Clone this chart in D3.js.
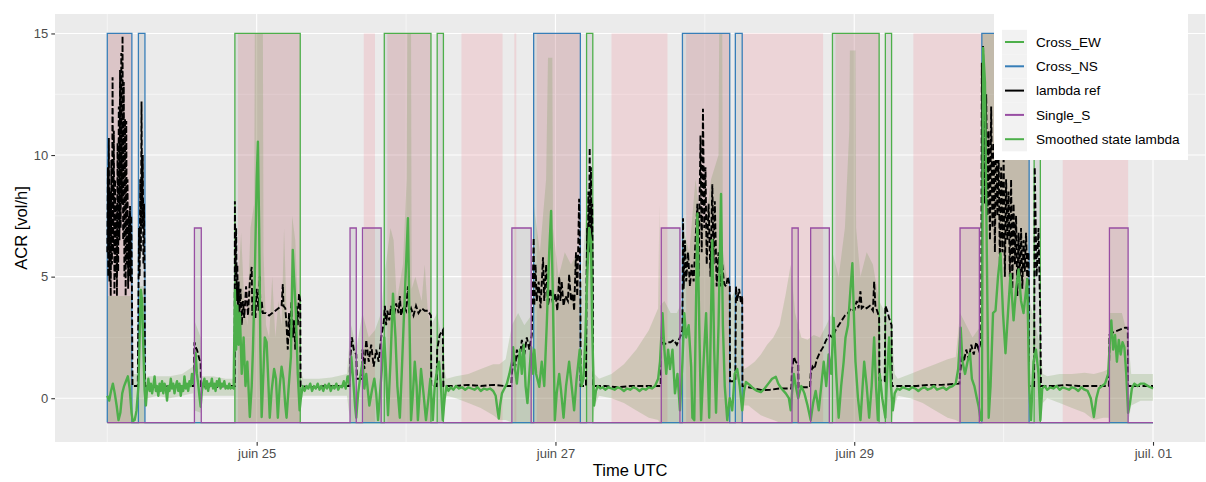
<!DOCTYPE html>
<html><head><meta charset="utf-8">
<script src="https://cdn.jsdelivr.net/npm/d3@7"></script>
<style>body{margin:0;background:#fff;font-family:"Liberation Sans",Arial,sans-serif;}</style>
</head><body><svg id="c" width="1206" height="482"></svg>
<script>
// ---- data (time in hours after juin 24 00:00 UTC) ----
const yTicks = [0, 5, 10, 15];
const xTickHours = [24, 72, 120, 168];
const xTickLabels = ["juin 25", "juin 27", "juin 29", "juil. 01"];
const legendLabels = ["Cross_EW", "Cross_NS", "lambda ref", "Single_S", "Smoothed state lambda"];
const legendColors = ["#4DAF4A", "#377EB8", "#000000", "#984EA3", "#4DAF4A"];

const crossEW = [[20.5,31],[44.5,52],[53,54],[77,78],[116.5,124],[125,126],[148.9,149.9]];
const crossNS = [[0,3.95],[5,6.05],[68.5,76],[92.4,100],[100.9,102],[140.5,148.1]];
const singleS = [[14,15.1],[39,40],[41,44],[65,68.1],[89,92],[110,111],[113,116],[137,140.1],[161,164]];
const stateLevels = {Cross_EW: 15, Cross_NS: 15, Single_S: 7, base: -1};

const pinkPeriods = [[0,3.95],[21,31],[41.2,43],[45,52],[56.9,63.5],[65.4,65.7],[69,76],[81,90],[93,100],[102,115],[117,124],[129.5,148.1],[153.5,164]];

const lambdaRef = [
[0,6.0],[0.1,9.5],[0.15,5.0],[0.25,10.7],[0.35,4.8],[0.45,8.5],[0.55,4.2],[0.65,9.8],[0.75,5.5],[0.85,13.2],[0.95,6.0],[1.05,11.0],[1.15,4.3],[1.25,9.0],[1.35,5.0],[1.45,8.0],[1.55,4.2],[1.65,10.5],[1.75,5.2],[1.85,12.0],[1.95,6.5],[2.05,13.5],[2.15,7.0],[2.25,14.2],[2.35,8.0],[2.45,14.9],[2.55,6.5],[2.65,13.0],[2.75,5.0],[2.85,11.5],[2.95,4.2],[3.05,11.4],[3.15,5.5],[3.25,9.0],[3.35,4.5],[3.45,7.5],[3.55,5.0],[3.65,7.9],[3.75,4.8],[3.85,7.5],[3.95,5.0],[4.05,0.5],
[4.9,0.5],[5.0,4.0],[5.1,7.0],[5.2,5.0],[5.3,9.0],[5.4,6.0],[5.5,12.2],[5.6,7.0],[5.7,10.0],[5.8,5.5],[5.9,8.0],[6.0,4.8],[6.05,0.5],
[8,0.45],[10,0.5],[12,0.5],[13.9,0.5],[14.0,2.3],[14.2,2.1],[14.4,2.0],[14.6,1.8],[14.8,1.6],[15.0,1.5],[15.05,0.5],[17,0.45],[19,0.5],[20.45,0.5],
[20.5,8.1],[20.6,5.0],[20.7,7.0],[20.8,4.0],[20.9,5.5],[21.0,3.0],[21.1,4.8],[21.2,3.2],[21.4,4.5],[21.6,3.0],[21.8,4.0],[22.0,3.3],[22.3,4.6],[22.6,3.4],[22.9,4.8],[23.2,5.4],[23.3,3.4],[23.6,4.2],[23.8,3.3],[24.0,4.5],[24.3,3.6],[24.5,5.0],[24.6,3.5],[24.8,4.0],[25.0,3.5],[25.5,3.5],[26.0,3.4],[26.5,3.5],[27.0,3.6],[27.5,3.7],[28.0,3.8],[28.2,4.7],[28.3,3.8],[28.6,3.7],[28.8,3.0],[29.0,2.0],[29.2,3.5],[29.4,2.5],[29.6,4.0],[29.8,2.5],[30.0,3.2],[30.2,2.0],[30.4,3.8],[30.6,3.0],[30.8,4.3],[31.0,4.0],[31.05,0.5],
[33,0.45],[35,0.5],[37,0.5],[38.9,0.5],[39.0,1.5],[39.3,2.5],[39.6,2.0],[40.0,1.8],[40.1,0.8],[40.9,0.8],[41.0,2.0],[41.3,1.2],[41.6,2.4],[42.0,1.5],[42.4,2.2],[42.8,1.3],[43.2,2.0],[43.6,1.5],[44.0,2.5],[44.4,3.1],[44.6,3.8],[44.8,3.0],[45.0,3.6],[45.3,3.2],[45.6,3.8],[46.0,3.3],[46.4,3.9],[46.8,3.5],[47.0,4.2],[47.2,3.4],[47.6,3.8],[48.0,3.6],[48.3,4.6],[48.5,3.5],[48.8,3.7],[49.2,3.4],[49.6,3.8],[50.0,3.5],[50.5,3.7],[51.0,3.6],[51.5,3.6],[52.0,3.4],[52.05,0.5],[52.9,0.5],[53.0,2.0],[53.4,2.6],[53.9,2.8],[54.0,0.5],
[56,0.5],[58,0.55],[60,0.5],[62,0.55],[64,0.5],[64.9,0.5],[65.0,1.0],[65.3,1.8],[65.5,1.2],[65.8,2.0],[66.2,1.5],[66.6,2.4],[67.0,1.8],[67.4,2.5],[67.8,2.0],[68.2,2.6],[68.5,6.6],[68.6,3.8],[68.8,5.5],[69.0,4.0],[69.3,4.8],[69.6,3.7],[70.0,5.8],[70.2,4.0],[70.5,5.5],[70.8,3.8],[71.2,4.5],[71.6,3.9],[72.0,4.3],[72.3,3.6],[72.6,5.0],[72.8,4.0],[73.0,4.8],[73.3,3.8],[73.6,4.2],[74.0,4.0],[74.2,5.1],[74.5,4.0],[74.8,4.3],[75.0,3.6],[75.3,6.0],[75.5,4.2],[75.8,8.2],[76.0,4.5],[76.05,0.5],
[76.9,0.5],[77.0,5.0],[77.1,7.0],[77.2,5.5],[77.3,8.5],[77.4,6.0],[77.5,10.3],[77.6,7.0],[77.7,9.5],[77.8,6.5],[77.9,8.0],[78.0,5.0],[78.05,0.5],[80,0.5],[82,0.45],[84,0.5],[86,0.5],[88.9,0.5],[89.0,2.5],[89.4,2.2],[90.0,2.3],[90.5,2.3],[91.0,2.4],[91.5,2.2],[92.0,2.5],[92.4,2.8],
[92.5,7.4],[92.6,4.5],[92.8,6.5],[93.0,4.8],[93.3,6.0],[93.6,4.6],[93.9,5.5],[94.2,4.8],[94.5,6.5],[94.8,8.0],[95.0,5.0],[95.3,10.8],[95.5,6.0],[95.7,11.9],[95.9,7.0],[96.1,9.5],[96.3,5.5],[96.6,8.0],[96.9,5.0],[97.2,8.8],[97.4,5.5],[97.6,8.1],[97.9,4.6],[98.2,6.0],[98.5,4.6],[98.8,5.5],[99.1,4.7],[99.4,4.6],[99.7,5.0],[100.0,4.6],[100.05,0.7],[100.9,0.7],[101.0,4.6],[101.2,4.0],[101.5,4.5],[101.8,3.9],[102.0,4.2],[102.05,0.5],
[103,0.45],[104,0.4],[105.2,0.33],[106.5,0.35],[108,0.4],[109.9,0.4],[110.0,1.2],[110.3,1.7],[110.6,1.5],[111.0,1.4],[111.05,0.45],[112.9,0.45],[113.0,1.0],[113.3,1.3],[113.6,1.2],[114.0,1.6],[114.5,1.9],[115.0,2.1],[115.5,2.4],[116.0,2.6],[116.5,2.5],[117.0,2.8],[117.5,3.0],[118.0,3.2],[118.5,3.4],[119.0,3.5],[119.5,3.7],[120.0,3.6],[120.4,4.0],[120.7,3.7],[121.0,4.4],[121.2,3.7],[121.6,3.8],[122.0,3.7],[122.5,3.8],[123.0,3.6],[123.2,4.8],[123.4,3.8],[123.8,3.5],[124.0,3.3],[124.05,0.74],[124.9,0.7],[125.0,3.8],[125.3,3.6],[125.6,3.3],[126.0,3.0],[126.05,0.5],
[128,0.5],[130,0.5],[132,0.55],[134,0.55],[136.9,0.6],[137.0,1.0],[137.3,1.8],[137.6,1.5],[138.0,2.0],[138.4,1.6],[138.8,2.2],[139.2,1.8],[139.6,2.3],[140.0,2.0],[140.4,2.4],
[140.5,13.8],[140.6,9.0],[140.7,14.5],[140.8,10.0],[140.9,13.0],[141.0,8.0],[141.2,12.5],[141.4,7.5],[141.6,11.0],[141.8,6.5],[142.0,12.0],[142.2,7.0],[142.4,10.5],[142.6,6.0],[142.8,11.5],[143.0,7.5],[143.2,10.0],[143.4,5.5],[143.6,9.5],[143.8,6.0],[144.0,10.0],[144.2,5.0],[144.4,9.0],[144.6,6.5],[144.8,8.5],[145.0,5.0],[145.2,9.0],[145.4,4.5],[145.6,8.0],[145.8,5.5],[146.0,7.5],[146.2,4.2],[146.4,6.8],[146.6,5.0],[146.8,7.0],[147.0,4.5],[147.2,6.5],[147.4,5.2],[147.6,6.8],[147.8,4.8],[148.0,6.0],[148.1,0.5],[148.9,0.5],[149.0,9.5],[149.3,5.0],[149.6,7.0],[149.9,3.2],[150.0,0.5],
[152,0.5],[154,0.55],[156,0.5],[158,0.5],[160.9,0.5],[161.0,2.6],[161.5,2.7],[162.0,2.75],[162.5,2.8],[163.0,2.85],[163.5,2.9],[163.95,2.9],[164.0,0.5],[166,0.5],[168,0.5]
];

const smoothed = [
[0.0,0.1],[0.3,-0.1],[0.6,0.3],[0.9,0.6],[1.2,0.2],[1.5,-0.3],[1.8,-0.9],[2.1,-0.6],[2.4,0.2],[2.7,0.5],[3.0,0.7],[3.3,0.9],[3.6,0.4],[3.9,-0.6],[4.1,-0.95],[4.4,-0.9],[4.7,-0.5],[5.0,0.5],[5.2,2.5],[5.4,4.45],[5.6,4.0],[5.8,2.0],[6.0,0.3],[6.2,-0.3],[6.4,0.4],
[6.6,0.8],[6.8,0.3],[7.0,0.6],[7.2,0.2],[7.4,0.5],[7.6,0.9],[7.8,0.3],[8.0,0.5],[8.2,0.1],[8.4,0.6],[8.6,0.3],[8.8,0.7],[9.0,0.2],[9.2,0.6],[9.4,0.4],[9.6,-0.1],[9.8,0.5],[10.0,0.3],[10.2,0.8],[10.4,0.4],[10.6,0.6],[10.8,0.2],[11.0,0.5],[11.2,0.7],[11.4,0.3],[11.6,0.6],[11.8,0.1],[12.0,0.5],[12.2,0.3],[12.4,0.9],[12.6,0.4],[12.8,0.6],[13.0,0.3],[13.2,0.7],[13.4,0.5],[13.6,1.0],[13.8,0.6],[14.0,1.2],[14.2,1.85],[14.4,1.0],[14.6,0.6],[14.8,0.1],[15.0,-0.35],[15.2,0.3],[15.4,0.6],[15.6,0.8],[15.8,0.4],[16.0,0.7],[16.2,0.3],[16.4,0.6],[16.6,0.5],[16.8,0.8],[17.0,0.4],[17.2,0.6],[17.4,0.3],[17.6,0.7],[17.8,0.5],[18.0,0.8],[18.2,0.4],[18.4,0.6],[18.6,0.5],[18.8,0.7],[19.0,0.4],[19.2,0.5],[19.4,0.4],[19.6,0.6],[19.8,0.4],[20.0,0.45],[20.3,0.4],
[20.5,4.45],[20.7,2.0],[20.9,3.8],[21.1,2.2],[21.3,3.5],[21.6,1.0],[21.9,2.5],[22.2,0.5],[22.5,1.5],[22.9,-0.77],[23.2,0.5],[23.4,2.0],[23.7,5.0],[24.0,9.0],[24.2,10.55],[24.4,7.0],[24.6,2.0],[24.8,-0.77],[25.0,0.5],[25.3,2.5],[25.6,2.3],[25.9,0.5],[26.1,-0.8],[26.4,0.3],[26.8,1.2],[27.1,0.8],[27.4,-0.8],[27.7,0.5],[28.0,1.3],[28.3,0.8],[28.6,-0.3],[28.8,-0.8],[29.1,0.3],[29.5,1.7],[29.8,6.1],[30.0,5.0],[30.3,3.5],[30.6,1.0],[30.9,-0.5],[31.1,0.0],[31.4,0.5],
[31.7,0.3],[32.0,0.5],[32.3,0.4],[32.6,0.6],[32.9,0.3],[33.2,0.5],[33.5,0.4],[33.8,0.6],[34.1,0.35],[34.4,0.5],[34.7,0.3],[35.0,0.55],[35.3,0.4],[35.6,0.6],[35.9,0.3],[36.2,0.5],[36.5,0.4],[36.8,0.6],[37.1,0.35],[37.4,0.5],[37.7,0.45],[38.0,0.7],[38.3,0.4],[38.6,0.9],[38.9,0.6],[39.2,1.7],[39.5,0.8],[39.8,-0.3],[40.0,-0.8],[40.3,0.2],[40.6,0.8],[41.0,1.5],[41.3,0.4],[41.6,1.0],[42.1,-0.3],[42.5,0.3],[42.9,0.8],[43.2,0.2],[43.5,-0.9],[43.9,0.5],[44.3,1.8],[44.5,2.5],[44.8,1.0],[45.1,-0.7],[45.5,1.5],[45.9,4.3],[46.3,2.5],[46.6,0.5],[47.0,-0.8],[47.3,1.0],[47.6,3.0],[48.0,5.5],[48.3,7.4],[48.5,4.0],[48.8,-0.9],[49.1,0.2],[49.4,1.5],[49.7,0.5],[49.9,-0.9],[50.2,0.3],[50.4,1.2],[50.8,0.2],[51.2,-0.9],[51.6,0.0],[51.9,0.8],[52.3,-0.9],[52.6,0.5],[53.0,1.2],[53.3,1.5],[53.6,0.5],[53.9,-0.9],[54.2,0.0],[54.5,0.5],
[54.8,0.3],[55.2,0.45],[55.6,0.35],[56.0,0.5],[56.5,0.4],[57.0,0.45],[57.5,0.35],[58.0,0.45],[58.5,0.4],[59.0,0.35],[59.5,0.45],[60.0,0.3],[60.5,0.4],[61.0,0.35],[61.5,0.4],[62.0,0.3],[62.4,0.1],[62.7,-0.5],[62.9,-0.84],[63.1,-0.3],[63.4,0.2],[63.8,0.4],[64.2,0.6],[64.6,1.0],[65.0,1.5],[65.2,2.1],[65.5,1.2],[65.8,0.6],[66.0,1.15],[66.3,2.0],[66.6,1.0],[66.9,2.2],[67.2,0.5],[67.5,-0.2],[67.8,1.0],[68.1,2.1],[68.4,1.0],[68.6,2.0],[68.9,1.0],[69.4,0.47],[69.8,1.5],[70.2,0.5],[70.6,3.0],[71.0,6.0],[71.3,7.7],[71.6,4.0],[71.9,-0.9],[72.2,0.2],[72.6,1.0],[72.9,0.3],[73.3,-0.8],[73.7,0.5],[74.2,1.5],[74.6,0.5],[75.0,-0.5],[75.4,0.8],[75.9,2.0],[76.2,0.5],[76.5,0.8],[76.8,2.5],[77.1,5.0],[77.4,7.0],[77.7,6.5],[77.9,3.0],[78.2,-0.3],[78.5,0.3],[78.8,0.5],
[79.2,0.4],[79.6,0.45],[80.0,0.35],[80.5,0.45],[81.0,0.4],[81.5,0.35],[82.0,0.45],[82.5,0.4],[83.0,0.3],[83.5,0.4],[84.0,0.35],[84.5,0.45],[85.0,0.4],[85.5,0.3],[86.0,0.4],[86.5,0.35],[87.0,0.45],[87.5,0.4],[88.0,0.5],[88.5,0.8],[88.8,1.5],[89.2,3.5],[89.5,2.0],[89.8,1.0],[90.1,2.0],[90.4,1.2],[90.8,2.0],[91.2,0.2],[91.6,1.0],[92.0,-0.5],[92.4,1.5],[92.7,3.5],[93.0,2.5],[93.4,3.0],[93.8,1.3],[94.0,-0.8],[94.3,-0.9],[94.8,7.6],[95.1,3.0],[95.4,-0.9],[95.8,1.5],[96.2,3.5],[96.7,-0.8],[97.2,6.5],[97.5,2.0],[97.8,-0.6],[98.2,3.0],[98.6,8.4],[98.9,3.0],[99.2,0.5],[99.6,-0.9],[100.0,0.0],[100.4,-0.5],[100.8,1.0],[101.2,1.2],[101.6,0.5],[102.0,-0.5],[102.3,0.3],[102.6,0.67],[103.2,0.55],[103.8,0.4],[104.4,0.3],[105.0,0.25],[105.6,0.4],[106.2,0.6],[106.8,0.8],[107.4,0.88],[107.8,0.6],[108.3,0.4],[109.0,0.2],[109.5,0.0],[109.8,-0.5],[110.0,0.2],[110.3,1.0],[110.6,0.5],[111.0,0.0],[111.5,0.5],[112.0,0.2],[112.5,-0.3],[113.0,-0.9],[113.4,-0.2],[113.8,0.3],[114.3,-0.5],[114.7,0.5],[115.1,1.5],[115.5,0.5],[115.9,1.8],[116.3,1.0],[116.7,3.3],[117.1,1.0],[117.5,-0.8],[117.9,0.5],[118.3,1.5],[118.6,2.5],[119.0,3.0],[119.4,4.5],[119.7,5.55],[120.0,3.0],[120.2,1.5],[120.6,0.0],[121.0,-0.9],[121.3,0.3],[121.6,1.5],[122.0,0.5],[122.4,-0.8],[122.8,0.5],[123.2,2.5],[123.5,0.5],[123.8,-0.9],[124.1,1.0],[124.5,0.0],[125.0,-0.8],[125.3,1.0],[125.6,2.5],[125.9,0.5],[126.2,-0.5],[126.5,0.2],[126.9,0.4],
[127.3,0.35],[127.8,0.45],[128.3,0.4],[128.8,0.35],[129.3,0.45],[129.8,0.4],[130.3,0.3],[130.8,0.4],[131.3,0.45],[131.8,0.35],[132.3,0.4],[132.8,0.5],[133.3,0.35],[133.8,0.4],[134.3,0.45],[134.8,0.35],[135.3,0.45],[135.8,0.5],[136.3,0.6],[136.7,1.2],[137.1,2.9],[137.4,1.5],[137.8,1.0],[138.2,1.5],[138.6,1.85],[138.9,0.8],[139.3,0.5],[139.7,0.0],[140.0,-0.35],[140.3,-0.9],[140.5,-0.9],[140.7,14.4],[141.0,13.0],[141.3,6.0],[141.6,-0.8],[141.9,0.5],[142.3,3.5],[142.7,3.6],[143.1,5.0],[143.5,5.95],[143.9,3.5],[144.3,1.85],[144.7,3.5],[145.1,5.1],[145.6,3.2],[146.0,4.5],[146.4,5.3],[146.8,4.0],[147.2,3.5],[147.8,4.9],[148.1,0.5],[148.4,-0.9],[148.8,1.5],[149.2,2.0],[149.6,1.0],[149.9,-0.9],[150.2,0.4],
[150.6,0.5],[151.0,0.35],[151.5,0.45],[152.0,0.4],[152.5,0.5],[153.0,0.35],[153.5,0.45],[154.0,0.4],[154.5,0.35],[155.0,0.45],[155.5,0.4],[156.0,0.3],[156.5,0.45],[157.0,0.35],[157.5,0.3],[158.0,0.0],[158.5,-0.77],[158.9,0.0],[159.3,0.4],[159.8,0.5],[160.3,0.6],[160.8,1.0],[161.1,2.5],[161.3,3.2],[161.6,2.0],[161.9,2.6],[162.2,1.5],[162.5,2.4],[162.8,1.8],[163.1,2.3],[163.4,2.1],[163.7,1.0],[164.0,-0.6],[164.3,-0.2],[164.6,0.4],[165.0,0.6],[165.5,0.5],[166.0,0.6],[166.6,0.6],[167.2,0.5],[167.6,0.45],[168.0,0.4]
];

// ribbon: [hour, lower, upper]
const ribbon = [
[0,-1,4.2],[3.95,-1,4.2],[4.0,-1,1.0],[4.9,-1,1.0],[5.0,-1,4.6],[6.0,-1,4.6],[6.1,0.0,0.8],[6.5,0.0,0.9],[8,0.1,0.9],[10,0.0,0.9],[12,0.1,1.0],[13.8,0.2,1.3],[14.0,-0.5,3.2],[15.0,-0.6,2.5],[15.2,0.1,0.9],[17,0.1,0.9],[19,0.1,0.8],[20.4,0.1,0.8],
[20.5,-1,5.0],[21,-1,4.5],[21.5,-1,6.8],[22,-1,4.0],[22.5,-1,3.0],[23.0,-1,7.0],[23.6,-1,8.0],[23.7,-1,15],[25.0,-1,15],[25.1,-1,6.0],[25.5,-1,3.0],[26.0,-1,2.5],[26.5,-1,5.0],[27.0,-1,2.5],[27.5,-1,4.0],[28.0,-1,3.0],[28.4,-1,7.0],[28.8,-1,3.5],[29.3,-1,3.0],[29.7,-1,7.5],[30.2,-1,6.5],[30.6,-1,4.0],[31.0,-1,2.0],[31.2,0.0,1.0],
[31.5,0.1,0.8],[34,0.1,0.8],[36,0.1,0.85],[38.5,0.1,1.0],[38.8,-0.5,2.0],[39.2,-1,3.0],[40,-1,2.0],[41,-1,3.5],[42,-1,2.5],[43,-1,2.8],[44,-1,3.5],
[44.5,-1,5.0],[45.5,-1,7.0],[46,-1,6.5],[46.5,-1,4.0],[47.5,-1,5.5],[48.1,-1,9.0],[48.2,-1,15],[48.8,-1,15],[48.9,-1,4.5],[49.5,-1,5.0],[50.5,-1,4.0],[51.0,-1,5.5],[51.5,-1,3.5],[52,-1,3.0],[53,-1,3.5],[54,-1,2.0],[54.3,-0.2,1.0],
[54.5,0.1,0.8],[56,0.0,0.9],[58,-0.2,1.0],[60,-0.4,1.2],[62,-0.7,1.4],[63,-0.9,1.4],[64,-0.9,1.6],[65,-1,3.0],[66,-1,3.5],[67,-1,3.0],[68.4,-1,3.5],
[68.5,-1,8.0],[69.5,-1,6.0],[70.5,-1,9.0],[70.8,-1,14.0],[71.5,-1,14.0],[71.6,-1,7.0],[72.5,-1,5.0],[73.5,-1,6.0],[74.5,-1,5.5],[75.5,-1,6.0],[76,-1,4.0],[77,-1,8.0],[77.7,-1,9.5],[78,-1,3.0],[78.3,-0.3,1.0],
[79,0.1,0.8],[81,0.0,1.0],[83,-0.2,1.4],[85,-0.5,2.0],[87,-0.8,2.8],[88.5,-0.9,3.7],[88.7,-1,8.0],[88.8,-1,3.8],[89.5,-1,4.0],[90.5,-1,3.5],[91.5,-1,3.5],[92.4,-1,4.0],
[92.5,-1,7.0],[93.5,-1,6.0],[94.5,-1,9.0],[95,-1,8.0],[96,-1,7.0],[97,-1,9.0],[98.2,-1,10.0],[98.3,-1,15],[98.8,-1,15],[98.9,-1,6.0],[99.5,-1,5.0],[100,-1,4.0],[101,-1,4.5],[102,-1,3.5],
[102.3,-0.3,1.2],[103,-0.3,1.3],[104,-0.5,1.5],[105,-0.7,1.8],[106,-0.8,2.2],[107,-0.9,2.5],[108,-1,3.0],[109,-1,4.3],[109.8,-1,5.5],[110.5,-1,3.5],[111.5,-1,2.5],[112.5,-1,2.4],[113.5,-1,2.6],[114.5,-1,2.5],[115.5,-1,3.0],[116.4,-1,3.5],
[116.5,-1,6.0],[117.5,-1,5.0],[118.5,-1,7.0],[119.2,-1,11.0],[119.3,-1,14.3],[120.2,-1,14.3],[120.3,-1,7.0],[121,-1,5.0],[122,-1,6.0],[123,-1,5.5],[124,-1,4.0],[125,-1,3.5],[126,-1,3.0],[126.5,-0.3,1.0],
[127,0.1,0.8],[129,0.0,1.0],[131,-0.2,1.2],[133,-0.5,1.4],[135,-0.8,1.6],[136.3,-0.9,1.7],[137,-1,3.5],[138,-1,3.0],[139,-1,2.5],[140.4,-1,3.0],
[140.5,-1,15],[148.1,-1,15],[148.2,-1,4.0],[150,-1,2.0],[150.3,-0.2,1.0],
[151,0.0,0.9],[153,-0.2,1.0],[155,-0.4,1.0],[157,-0.6,1.05],[158.5,-0.9,1.0],[160,-0.8,1.1],[160.9,-0.8,1.2],[161,-1,3.5],[162,-1,3.5],[163,-1,3.5],[164,-1,2.5],[164.5,-0.3,1.0],[166,-0.1,1.0],[168,-0.1,1.0]
];

// ---- drawing ----
const M = {left: 55, right: 1205.3, top: 14, bottom: 442};
const t0 = Date.UTC(2024, 5, 24);
const toDate = h => new Date(t0 + h * 3600e3);
const x = d3.scaleUtc().domain([toDate(-8.4), toDate(176.4)]).range([M.left, M.right]);
const y = d3.scaleLinear().domain([-1.8, 15.8]).range([M.bottom, M.top]);
const X = h => x(toDate(h));
const FONT = "Liberation Sans, Arial, sans-serif";

const svg = d3.select("#c");
svg.append("defs").append("clipPath").attr("id", "clip").append("rect")
  .attr("x", M.left).attr("y", M.top).attr("width", M.right - M.left).attr("height", M.bottom - M.top);

svg.append("rect").attr("x", M.left).attr("y", M.top).attr("width", M.right - M.left).attr("height", M.bottom - M.top).attr("fill", "#EBEBEB");

const grid = svg.append("g");
[2.5, 7.5, 12.5].forEach(v => grid.append("line").attr("x1", M.left).attr("x2", M.right).attr("y1", y(v)).attr("y2", y(v)).attr("stroke", "#fff").attr("stroke-width", 0.55));
[0, 48, 96, 144].forEach(h => grid.append("line").attr("y1", M.top).attr("y2", M.bottom).attr("x1", X(h)).attr("x2", X(h)).attr("stroke", "#fff").attr("stroke-width", 0.55));
yTicks.forEach(v => grid.append("line").attr("x1", M.left).attr("x2", M.right).attr("y1", y(v)).attr("y2", y(v)).attr("stroke", "#fff").attr("stroke-width", 1.1));
xTickHours.forEach(h => grid.append("line").attr("y1", M.top).attr("y2", M.bottom).attr("x1", X(h)).attr("x2", X(h)).attr("stroke", "#fff").attr("stroke-width", 1.1));

const plot = svg.append("g").attr("clip-path", "url(#clip)");

plot.selectAll(".pink").data(pinkPeriods).join("rect")
  .attr("x", d => X(d[0])).attr("width", d => X(d[1]) - X(d[0]))
  .attr("y", y(15)).attr("height", y(-1) - y(15))
  .attr("fill", "rgb(240,120,135)").attr("opacity", 0.2);

const blocks = [];
crossEW.forEach(d => blocks.push({s: d[0], e: d[1], lv: stateLevels.Cross_EW}));
crossNS.forEach(d => blocks.push({s: d[0], e: d[1], lv: stateLevels.Cross_NS}));
singleS.forEach(d => blocks.push({s: d[0], e: d[1], lv: stateLevels.Single_S}));
plot.selectAll(".blk").data(blocks).join("rect")
  .attr("x", d => X(d.s)).attr("width", d => X(d.e) - X(d.s))
  .attr("y", d => y(d.lv)).attr("height", d => y(-1) - y(d.lv))
  .attr("fill", "#000").attr("opacity", 0.07);

const area = d3.area().x(d => X(d[0])).y0(d => y(d[1])).y1(d => y(d[2]));
plot.append("path").attr("d", area(ribbon)).attr("fill", "rgb(105,150,75)").attr("opacity", 0.22);

function stepPoints(intervals, level) {
  const pts = [[0, stateLevels.base]];
  intervals.forEach(([s, e]) => { pts.push([s, stateLevels.base], [s, level], [e, level], [e, stateLevels.base]); });
  pts.push([168, stateLevels.base]);
  return pts;
}
const line = d3.line().x(d => X(d[0])).y(d => y(d[1]));
plot.append("path").attr("d", line(stepPoints(crossEW, stateLevels.Cross_EW))).attr("fill", "none").attr("stroke", legendColors[0]).attr("stroke-width", 1.3);
plot.append("path").attr("d", line(stepPoints(crossNS, stateLevels.Cross_NS))).attr("fill", "none").attr("stroke", legendColors[1]).attr("stroke-width", 1.3);

plot.append("path").attr("d", line(lambdaRef)).attr("fill", "none").attr("stroke", "#000").attr("stroke-width", 1.9).attr("stroke-dasharray", "6,2.5");
plot.append("path").attr("d", line(smoothed)).attr("fill", "none").attr("stroke", legendColors[4]).attr("stroke-width", 2.4).attr("stroke-linejoin", "round");
plot.append("path").attr("d", line(stepPoints(singleS, stateLevels.Single_S))).attr("fill", "none").attr("stroke", legendColors[3]).attr("stroke-width", 1.3);

const ax = svg.append("g").attr("transform", `translate(0,${M.bottom})`)
  .call(d3.axisBottom(x).tickValues(xTickHours.map(toDate)).tickFormat((d, i) => xTickLabels[i]).tickSize(3.7).tickPadding(3));
const ay = svg.append("g").attr("transform", `translate(${M.left},0)`)
  .call(d3.axisLeft(y).tickValues(yTicks).tickSize(3.7).tickPadding(3));
[ax, ay].forEach(g => {
  g.select(".domain").remove();
  g.selectAll(".tick line").attr("stroke", "#333").attr("stroke-width", 1.1);
  g.selectAll(".tick text").attr("fill", "#4D4D4D").attr("font-size", 13).attr("font-family", FONT);
});

svg.append("text").attr("x", (M.left + M.right) / 2).attr("y", 476).attr("text-anchor", "middle")
  .attr("font-size", 16.5).attr("font-family", FONT).text("Time UTC");
svg.append("text").attr("transform", `translate(27,${(M.top + M.bottom) / 2}) rotate(-90)`).attr("text-anchor", "middle")
  .attr("font-size", 16.5).attr("font-family", FONT).text("ACR [vol/h]");

const lg = svg.append("g");
lg.append("rect").attr("x", 994).attr("y", 4).attr("width", 194).attr("height", 156).attr("fill", "#fff");
const keyY0 = 42, keyStep = 24.3;
lg.selectAll(".kbg").data(legendLabels).join("rect")
  .attr("x", 1002).attr("y", (d, i) => keyY0 + i * keyStep - keyStep / 2).attr("width", 25).attr("height", keyStep)
  .attr("fill", "#F2F2F2");
lg.selectAll(".kl").data(legendLabels).join("line")
  .attr("x1", 1005).attr("x2", 1024).attr("y1", (d, i) => keyY0 + i * keyStep).attr("y2", (d, i) => keyY0 + i * keyStep)
  .attr("stroke", (d, i) => legendColors[i]).attr("stroke-width", 2);
lg.selectAll(".kt").data(legendLabels).join("text")
  .attr("x", 1036).attr("y", (d, i) => keyY0 + i * keyStep).attr("dy", "0.35em")
  .attr("font-size", 13.6).attr("font-family", FONT).attr("fill", "#000").text(d => d);
</script></body></html>
